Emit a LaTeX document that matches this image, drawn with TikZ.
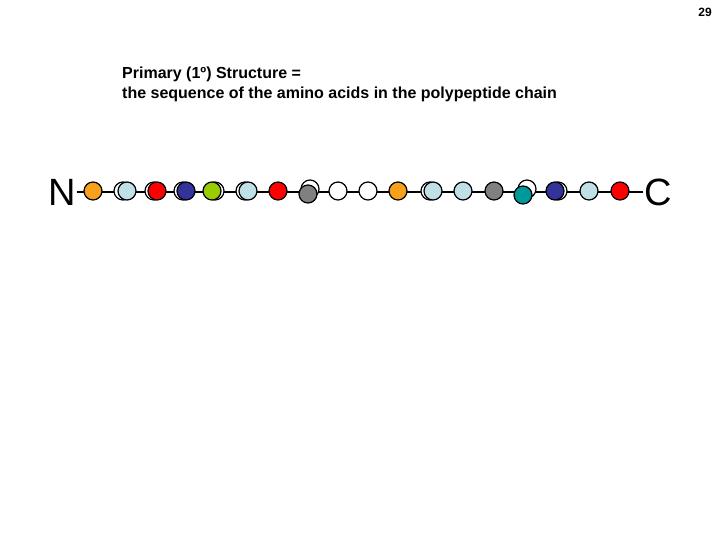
\documentclass[tikz,border=0pt]{standalone}
\usepackage{fontspec}
\setmainfont{Liberation Sans}
\usepackage{tikz}
\usetikzlibrary{backgrounds}
\usepackage{xcolor}
\definecolor{aaorange}{RGB}{246,160,28}
\definecolor{aalightblue}{RGB}{190,224,230}
\definecolor{aanavy}{RGB}{51,51,153}
\definecolor{aagreen}{RGB}{153,204,0}
\definecolor{aateal}{RGB}{0,153,153}
\definecolor{aagray}{RGB}{128,128,128}

\begin{document}
\begin{tikzpicture}[x=1pt,y=-1pt,
    aa/.style={circle,draw=black,line width=1.2pt,minimum size=18pt,inner sep=0pt},
    ghost/.style={aa,fill=white},
    terminal/.style={font=\fontsize{38}{40}\selectfont,inner sep=1pt}]
    \useasboundingbox (0,0) rectangle (720,540);
    % numero da pagina
    \node[font=\bfseries\fontsize{12}{13}\selectfont] (pagina) at (705,12) {29};
    % titulo
    \node[anchor=north west,inner sep=0pt,align=left,font=\bfseries\fontsize{16}{20}\selectfont] (titulo) at (122,67)
        {Primary (1º) Structure =\\the sequence of the amino acids in the polypeptide chain};
    % extremidades
    \node[terminal] (N) at (62,192) {N};
    \node[terminal] (C) at (658,192) {C};
    % contornos deslocados
    \foreach \i/\px/\py in {2/123/191, 3/154/191, 4/183/191, 5/215/191, 6/245/191,
        8/310/189, 12/430/191, 15/527/189, 16/558/191}
        \node[ghost] (g\i) at (\px,\py) {};
    % aminoacidos
    \foreach \i/\px/\py/\cor in {1/93/191/aaorange, 2/127/191/aalightblue, 3/157/191/red,
        4/186/191/aanavy, 5/212/191/aagreen, 6/248/191/aalightblue, 7/278/191/red,
        8/308/194/aagray, 9/338/191/white, 10/368/191/white, 11/398/191/aaorange,
        12/433/191/aalightblue, 13/463/191/aalightblue, 14/494/191/aagray,
        15/523/195/aateal, 16/555/191/aanavy, 17/589/191/aalightblue, 18/620/191/red}
        \node[aa,fill=\cor] (a\i) at (\px,\py) {};
    % cadeia
    \begin{scope}[on background layer]
        \draw[line width=1.3pt] (N) -- (C);
    \end{scope}
\end{tikzpicture}
\end{document}
